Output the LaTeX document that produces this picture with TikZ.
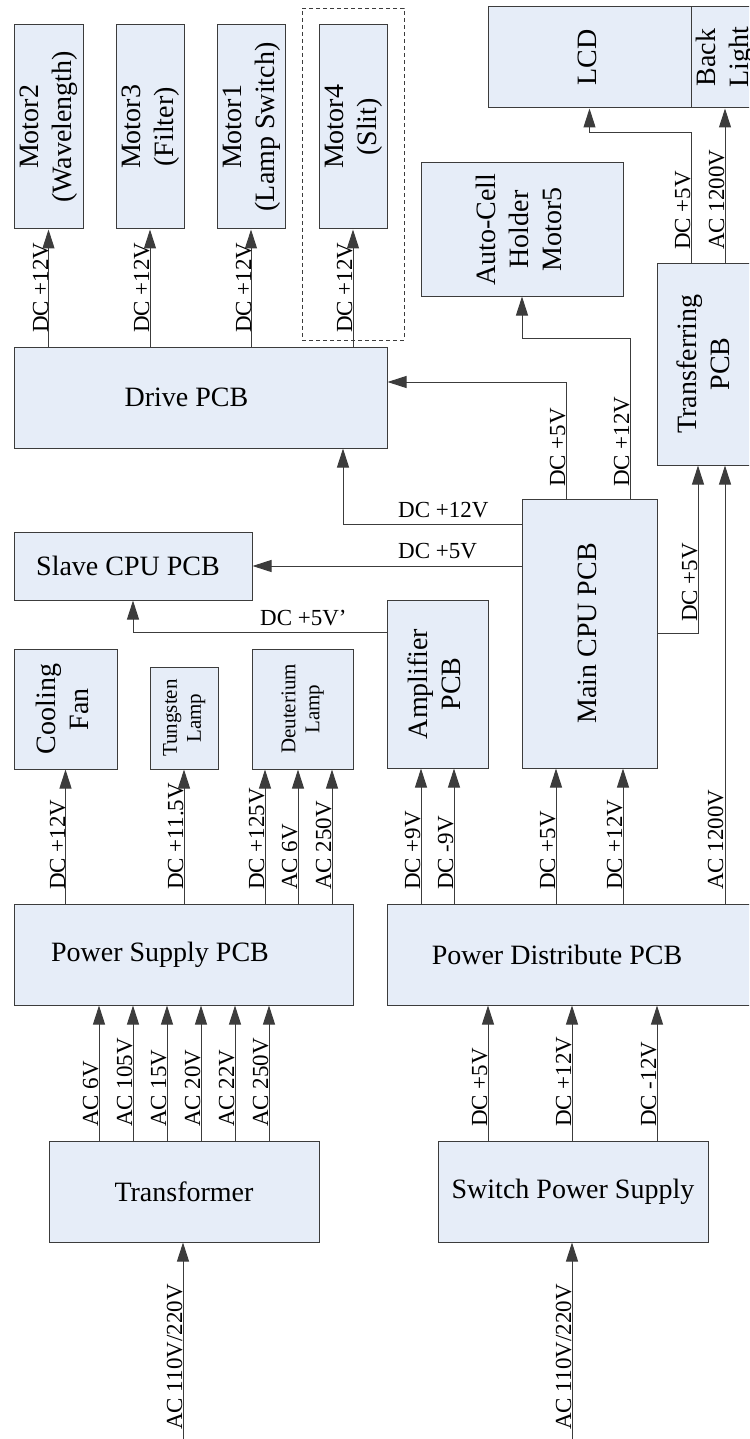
\documentclass[tikz,border=0pt]{standalone}
\usepackage{fontspec}
\setmainfont{Liberation Serif}
\usepackage{graphicx}
\usetikzlibrary{arrows.meta}
\definecolor{blkfill}{RGB}{230,237,248}
\definecolor{wirecol}{RGB}{60,60,60}
\newcommand\bigtxt{\fontsize{28}{33}\selectfont}
\newcommand\labtxt{\fontsize{23}{27}\selectfont}
\newcommand\lamptxt{\fontsize{21}{24}\selectfont}
\newcommand\vtext[1]{\rotatebox{90}{\begin{tabular}{@{}c@{}}#1\end{tabular}}}
\tikzset{
  blk/.style={draw=wirecol, fill=blkfill, line width=1pt, inner sep=0pt, font=\bigtxt},
  arr/.style={draw=wirecol, line width=1pt, -{Triangle[length=19pt,width=12pt]}},
  vlab/.style={rotate=90, anchor=base west, inner sep=0pt, font=\labtxt},
  hlab/.style={anchor=base west, inner sep=0pt, font=\labtxt},
}
\begin{document}
\begin{tikzpicture}[x=1pt,y=-1pt]
  \useasboundingbox (0,0) rectangle (749,1439);
  \clip (0,0) rectangle (749,1439);
  % motors and display
  \node[draw=wirecol, dashed, dash pattern=on 4pt off 3pt, line width=0.8pt, minimum width=102pt, minimum height=332pt, inner sep=0pt] (slitgrp) at (353,174) {};
  \node[blk, minimum width=69pt, minimum height=204pt] (m2) at (48.5,127) {\vtext{Motor2\\(Wavelength)}};
  \node[blk, minimum width=68pt, minimum height=204pt] (m3) at (150,127) {\vtext{Motor3\\(Filter)}};
  \node[blk, minimum width=68pt, minimum height=204pt] (m1) at (251,127) {\vtext{Motor1\\(Lamp Switch)}};
  \node[blk, minimum width=68pt, minimum height=204pt] (m4) at (353,127) {\vtext{Motor4\\(Slit)}};
  \node[blk, minimum width=203pt, minimum height=101pt] (lcd) at (589.5,57.5) {\vtext{LCD}};
  \node[blk, minimum width=68pt, minimum height=101pt] (bl) at (725,57.5) {\vtext{Back\\Light}};
  \node[blk, minimum width=202pt, minimum height=133pt] (acm) at (522,229.5) {\vtext{Auto-Cell\\Holder\\Motor5}};
  % boards
  \node[blk, minimum width=373pt, minimum height=101pt] (drive) at (200.5,397.5) {Drive PCB\hspace*{28pt}};
  \node[blk, minimum width=98pt, minimum height=202pt] (trans) at (706,364) {\vtext{Transferring\\PCB}};
  \node[blk, minimum width=238pt, minimum height=68pt] (slave) at (133,566) {Slave CPU PCB\hspace*{10pt}};
  \node[blk, minimum width=101pt, minimum height=168pt] (amp) at (437.5,684) {\vtext{Amplifier\\PCB}};
  \node[blk, minimum width=135pt, minimum height=269pt] (mcpu) at (589.5,633.5) {\vtext{Main CPU PCB}};
  \node[blk, minimum width=103pt, minimum height=120pt] (fan) at (65.5,709) {\vtext{Cooling\\Fan}};
  \node[blk, minimum width=68pt, minimum height=102pt, font=\lamptxt] (tung) at (184,718) {\vtext{Tungsten\\Lamp}};
  \node[blk, minimum width=101pt, minimum height=120pt, font=\lamptxt] (deut) at (302.5,709) {\vtext{Deuterium\\Lamp}};
  \node[blk, minimum width=339pt, minimum height=101pt] (psu) at (183.5,954.5) {Power Supply PCB\hspace*{47pt}};
  \node[blk, minimum width=383pt, minimum height=101pt] (pd) at (578.5,954.5) {Power Distribute PCB\hspace*{43pt}};
  \node[blk, minimum width=270pt, minimum height=101pt] (tf) at (184,1191.5) {Transformer};
  \node[blk, minimum width=270pt, minimum height=101pt] (sps) at (573,1191.5) {Switch Power Supply};
  \coordinate (in1) at (183,1440);
  \coordinate (in2) at (572,1440);
  % drive to motors
  \foreach \n in {m2,m3,m1,m4}
    \draw[arr] (\n |- drive.north) -- (\n.south);
  \foreach \x/\n in {48/m2,149/m3,251/m1,352/m4}
    \node[vlab] (v\n) at (\x,333) {DC +12V};
  % transferring to display
  \draw[arr] (691,0 |- trans.north) -- (691,133) -| (lcd.south);
  \draw[arr] (bl |- trans.north) -- (bl.south);
  \node[vlab] (vlcd) at (690,250) {DC +5V};
  \node[vlab] (vbl) at (724,250) {AC 1200V};
  % main cpu outputs
  \draw[arr] (630,0 |- mcpu.north) -- (630,338) -| (acm.south);
  \draw[arr] (566,0 |- mcpu.north) |- (drive.east |- 0,382);
  \draw[arr] (mcpu.west |- 0,524) -| (343,0 |- drive.south);
  \draw[arr] (mcpu.west |- slave.east) -- (slave.east);
  \draw[arr] (amp.west |- 0,632) -| (slave.south);
  \draw[arr] (mcpu.east) -| (698,0 |- trans.south);
  \draw[arr] (725,0 |- pd.north) -- (725,0 |- trans.south);
  \node[vlab] (vdrv) at (565,487) {DC +5V};
  \node[vlab] (vacm) at (629,487) {DC +12V};
  \node[vlab] (vtr) at (697,622) {DC +5V};
  \node[hlab] (hdrv) at (398,517) {DC +12V};
  \node[hlab] (hslv) at (398,558) {DC +5V};
  \node[hlab] (hamp) at (260,625) {DC +5V'};
  % power supply pcb outputs
  \draw[arr] (fan |- psu.north) -- (fan.south);
  \draw[arr] (tung |- psu.north) -- (tung.south);
  \foreach \x in {265,298,332}
    \draw[arr] (\x,0 |- psu.north) -- (\x,0 |- deut.south);
  \node[vlab] (vfan) at (65,890) {DC +12V};
  \node[vlab] (vtung) at (183,890) {DC +11.5V};
  \foreach \x/\t in {264/DC +125V,297/AC 6V,331/AC 250V}
    \node[vlab] (vd\x) at (\x,890) {\t};
  % power distribute pcb outputs
  \foreach \x in {421,454}
    \draw[arr] (\x,0 |- pd.north) -- (\x,0 |- amp.south);
  \foreach \x in {556,623}
    \draw[arr] (\x,0 |- pd.north) -- (\x,0 |- mcpu.south);
  \foreach \x/\t in {420/DC +9V,453/DC -9V,555/DC +5V,622/DC +12V,723/AC 1200V}
    \node[vlab] (vp\x) at (\x,890) {\t};
  % supplies
  \foreach \x/\t in {99/AC 6V,133/AC 105V,167/AC 15V,201/AC 20V,235/AC 22V,269/AC 250V}{
    \draw[arr] (\x,0 |- tf.north) -- (\x,0 |- psu.south);
    \node[vlab] (vt\x) at (\x-1,1127) {\t};
  }
  \foreach \x/\t in {488/DC +5V,572/DC +12V,657/DC -12V}{
    \draw[arr] (\x,0 |- sps.north) -- (\x,0 |- pd.south);
    \node[vlab] (vs\x) at (\x-1,1127) {\t};
  }
  \draw[arr] (in1) -- (in1 |- tf.south);
  \draw[arr] (in2) -- (in2 |- sps.south);
  \node[vlab] (vin1) at (182,1430) {AC 110V/220V};
  \node[vlab] (vin2) at (571,1430) {AC 110V/220V};
\end{tikzpicture}
\end{document}
